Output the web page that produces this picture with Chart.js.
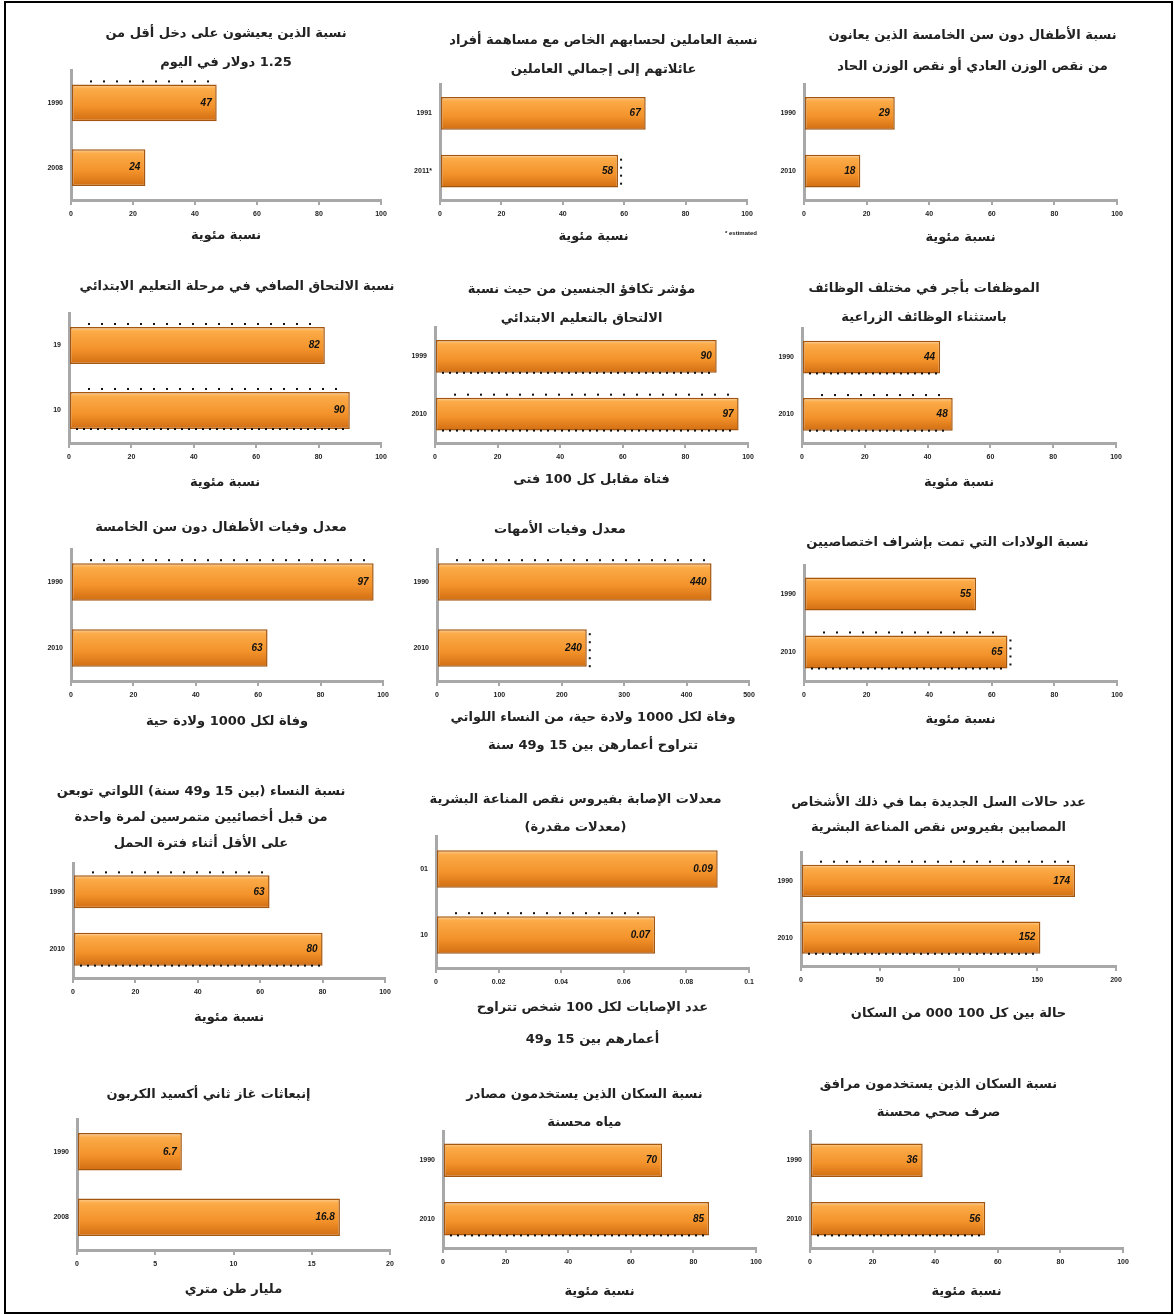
<!DOCTYPE html>
<html lang="ar">
<head>
<meta charset="UTF-8">
<title>مؤشرات الأهداف الإنمائية للألفية</title>
<script src="https://cdn.jsdelivr.net/npm/chart.js@4.4.1/dist/chart.umd.min.js"></script>
<style>
  body { margin: 0; background: #fff; width: 1175px; height: 1315px; position: relative; overflow: hidden; }
  #frame { position: absolute; left: 4px; top: 1px; width: 1165px; height: 1309px; border: 2px solid #000; }
  canvas { position: absolute; }
</style>
</head>
<body>
<div id="frame"></div>
<script>
// one entry per small chart, read left to right, top to bottom
const titles = [
  ["نسبة الذين يعيشون على دخل أقل من", "1.25 دولار في اليوم"],
  ["نسبة العاملين لحسابهم الخاص مع مساهمة أفراد", "عائلاتهم إلى إجمالي العاملين"],
  ["نسبة الأطفال دون سن الخامسة الذين يعانون", "من نقص الوزن العادي أو نقص الوزن الحاد"],
  ["نسبة الالتحاق الصافي في مرحلة التعليم الابتدائي"],
  ["مؤشر تكافؤ الجنسين من حيث نسبة", "الالتحاق بالتعليم الابتدائي"],
  ["الموظفات بأجر في مختلف الوظائف", "باستثناء الوظائف الزراعية"],
  ["معدل وفيات الأطفال دون سن الخامسة"],
  ["معدل وفيات الأمهات"],
  ["نسبة الولادات التي تمت بإشراف اختصاصيين"],
  ["نسبة النساء (بين 15 و49 سنة) اللواتي توبعن", "من قبل أخصائيين متمرسين لمرة واحدة", "على الأقل أثناء فترة الحمل"],
  ["معدلات الإصابة بفيروس نقص المناعة البشرية", "(معدلات مقدرة)"],
  ["عدد حالات السل الجديدة بما في ذلك الأشخاص", "المصابين بفيروس نقص المناعة البشرية"],
  ["إنبعاثات غاز ثاني أكسيد الكربون"],
  ["نسبة السكان الذين يستخدمون مصادر", "مياه محسنة"],
  ["نسبة السكان الذين يستخدمون مرافق", "صرف صحي محسنة"]
];

const axisTitles = [
  ["نسبة مئوية"], ["نسبة مئوية"], ["نسبة مئوية"],
  ["نسبة مئوية"], ["فتاة مقابل كل 100 فتى"], ["نسبة مئوية"],
  ["وفاة لكل 1000 ولادة حية"],
  ["وفاة لكل 1000 ولادة حية، من النساء اللواتي", "تتراوح أعمارهن بين 15 و49 سنة"],
  ["نسبة مئوية"],
  ["نسبة مئوية"],
  ["عدد الإصابات لكل 100 شخص تتراوح", "أعمارهم بين 15 و49"],
  ["حالة بين كل 100 000 من السكان"],
  ["مليار طن متري"], ["نسبة مئوية"], ["نسبة مئوية"]
];

const years = [
  ["1990", "2008"], ["1991", "\u200E2011*\u200E"], ["1990", "2010"],
  ["19", "10"], ["1999", "2010"], ["1990", "2010"],
  ["1990", "2010"], ["1990", "2010"], ["1990", "2010"],
  ["1990", "2010"], ["01", "10"], ["1990", "2010"],
  ["1990", "2008"], ["1990", "2010"], ["1990", "2010"]
];

const values = [
  [47, 24], [67, 58], [29, 18],
  [82, 90], [90, 97], [44, 48],
  [97, 63], [440, 240], [55, 65],
  [63, 80], [0.09, 0.07], [174, 152],
  [6.7, 16.8], [70, 85], [36, 56]
];

const axisMax = [100, 100, 100, 100, 100, 100, 100, 500, 100, 100, 0.1, 200, 20, 100, 100];
const axisStep = [20, 20, 20, 20, 20, 20, 20, 100, 20, 20, 0.02, 50, 5, 20, 20];
const notes = ["", "\u200E* estimated\u200E", "", "", "", "", "", "", "", "", "", "", "", "", ""];

// plot box placement: left, top, right, bottom, title line-1 y, title line height, axis title y, axis line height
const layout = [
  [71, 70, 381, 200, 33, 29, 236, 28],
  [440, 84, 747, 200, 40, 29, 237, 28],
  [804, 84, 1117, 200, 35, 31, 238, 28],
  [69, 313, 381, 443, 287, 28, 483, 28],
  [435, 327, 748, 443, 289, 29, 480, 28],
  [802, 328, 1116, 443, 288, 29, 483, 28],
  [71, 549, 383, 681, 528, 28, 722, 28],
  [437, 549, 749, 681, 530, 28, 718, 28],
  [804, 565, 1117, 681, 543, 28, 720, 28],
  [73, 863, 385, 978, 792, 26, 1018, 28],
  [436, 836, 749, 968, 800, 28, 1008, 32],
  [801, 852, 1116, 966, 802, 25, 1014, 28],
  [77, 1119, 390, 1250, 1095, 28, 1290, 28],
  [443, 1131, 756, 1248, 1095, 28, 1292, 28],
  [810, 1131, 1123, 1248, 1085, 28, 1292, 28]
];
// how far each chart title sits right (+) or left (-) of its plot centre
const titleShift = [0, 10, 12, 12, -10, -35, -6, -33, -13, -28, -17, -20, -25, -15, -28];

// the dotted speckles of the scanned original (t = above bar, b = below, r = at the end)
const dots = [
  ["t", ""], ["", "r"], ["", ""],
  ["t", "tb"], ["b", "tb"], ["b", "tb"],
  ["t", ""], ["t", "r"], ["", "tbr"],
  ["t", "b"], ["", "t"], ["t", "b"],
  ["", ""], ["", "b"], ["", "b"]
];

const BAR_PCT = 0.57;
const axisGrey = "#a8a8a8";
const titleFont = '"DejaVu Sans", sans-serif';

function barFill(ctx) {
  const chart = ctx.chart;
  const area = chart.chartArea;
  if (!area || ctx.type !== "data") return "#f59a30";
  const y = chart.scales.y.getPixelForValue(ctx.dataIndex);
  const half = (area.bottom - area.top) / chart.data.labels.length * BAR_PCT / 2;
  const g = chart.ctx.createLinearGradient(0, y - half, 0, y + half);
  g.addColorStop(0, "#fdd096");
  g.addColorStop(0.12, "#fbab48");
  g.addColorStop(0.6, "#f3922a");
  g.addColorStop(1, "#d06d12");
  return g;
}

const barExtras = {
  id: "barExtras",
  afterDatasetsDraw(chart, args, opts) {
    const ctx = chart.ctx;
    const meta = chart.getDatasetMeta(0);
    ctx.save();
    ctx.fillStyle = "#111";
    meta.data.forEach((bar, i) => {
      const spec = opts.dots[i];
      const top = bar.y - bar.height / 2, bottom = bar.y + bar.height / 2;
      if (spec.includes("t")) {
        for (let x = bar.base + 18; x < bar.x - 6; x += 13) ctx.fillRect(x, top - 4, 2, 2);
      }
      if (spec.includes("b")) {
        for (let x = bar.base + 6; x < bar.x - 4; x += 7) ctx.fillRect(x, bottom - 1, 2, 2);
      }
      if (spec.includes("r")) {
        for (let y = top + 4; y < bottom; y += 8) ctx.fillRect(bar.x + 2, y, 2, 2);
      }
    });
    ctx.font = 'italic bold 10px "Liberation Sans", Arial, sans-serif';
    ctx.textAlign = "right";
    ctx.textBaseline = "middle";
    meta.data.forEach((bar, i) => {
      ctx.fillText(String(chart.data.datasets[0].data[i]), bar.x - 5, bar.y);
    });
    if (opts.note) {
      ctx.font = 'bold 6px "Liberation Sans", Arial, sans-serif';
      ctx.fillText(opts.note, chart.chartArea.right + 10, chart.chartArea.bottom + 33);
    }
    ctx.restore();
  }
};

titles.forEach((ttl, i) => {
  const [l, t, r, b, tY, tLH, aY, aLH] = layout[i];
  const nT = ttl.length, nA = axisTitles[i].length;
  const side = 45;
  // widen one side so the full-width title centre moves by titleShift
  const leftW = side + Math.max(0, -2 * titleShift[i]);
  const rightW = side + Math.max(0, 2 * titleShift[i]);
  const cTop = tY - tLH / 2 - 2;
  const cBottom = aY + aLH * (nA - 1) + aLH / 2 + 4;
  const cLeft = l - leftW;
  const W = r + rightW - cLeft, H = cBottom - cTop;
  const xH = cBottom - b;

  const cv = document.createElement("canvas");
  cv.width = W;
  cv.height = H;
  cv.style.left = cLeft + "px";
  cv.style.top = cTop + "px";
  cv.dir = "rtl";
  document.body.appendChild(cv);

  new Chart(cv, {
    type: "bar",
    data: {
      labels: years[i],
      datasets: [{
        data: values[i],
        backgroundColor: barFill,
        borderColor: "#a4560f",
        borderWidth: 1.5,
        borderSkipped: false,
        barPercentage: BAR_PCT,
        categoryPercentage: 1
      }]
    },
    options: {
      indexAxis: "y",
      responsive: false,
      animation: false,
      devicePixelRatio: 1,
      layout: { padding: 0 },
      plugins: {
        legend: { display: false },
        tooltip: { enabled: false },
        title: {
          display: true,
          text: ttl,
          color: "#222",
          font: { family: titleFont, size: 13, weight: "bold", lineHeight: tLH + "px" },
          padding: { top: 2, bottom: t - (cTop + 2 + nT * tLH) }
        },
        barExtras: { dots: dots[i], note: notes[i] }
      },
      scales: {
        x: {
          min: 0,
          max: axisMax[i],
          afterFit: s => { s.height = xH; },
          ticks: {
            stepSize: axisStep[i],
            color: "#222",
            padding: 5,
            font: { family: '"Liberation Sans", Arial', size: 7, weight: "bold" },
            callback: v => String(+v.toFixed(4))
          },
          grid: { drawOnChartArea: false, drawTicks: true, tickLength: 5, color: axisGrey, lineWidth: 2 },
          border: { display: true, color: axisGrey, width: 3 },
          title: {
            display: true,
            text: axisTitles[i],
            color: "#222",
            font: { family: titleFont, size: 13, weight: "bold", lineHeight: aLH + "px" },
            padding: { top: 0, bottom: 4 }
          }
        },
        y: {
          afterFit: s => { s.width = leftW; },
          ticks: {
            color: "#222",
            padding: 8,
            font: { family: '"Liberation Sans", Arial', size: 7, weight: "bold" }
          },
          grid: { drawOnChartArea: false, drawTicks: false },
          border: { display: true, color: axisGrey, width: 3 }
        },
        // empty right-hand axis, only there to hold the right margin
        yRight: {
          type: "category",
          position: "right",
          labels: years[i],
          afterFit: s => { s.width = rightW; },
          ticks: { display: false },
          grid: { display: false },
          border: { display: false }
        }
      }
    },
    plugins: [barExtras]
  });
});
</script>
</body>
</html>
